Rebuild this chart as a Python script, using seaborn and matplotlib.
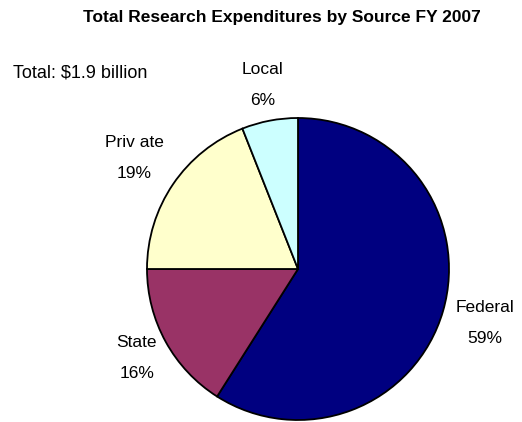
import numpy as np
import seaborn as sns
import matplotlib.pyplot as plt

sources = ["Federal", "State", "Private", "Local"]
shares = [59, 16, 19, 6]
label_text = ["Federal", "State", "Priv ate", "Local"]
colors = ["#000080", "#993366", "#FFFFCC", "#CCFFFF"]

# how far out each label sits (in pie radii)
label_dist = [1.29, 1.22, 1.31, 1.24]

sns.set_theme(style="white")
plt.rcParams["font.family"] = ["Liberation Sans Narrow", "Liberation Sans", "DejaVu Sans"]
plt.rcParams["text.color"] = "black"

fig = plt.figure(figsize=(5.22, 4.22), dpi=100)
cx, cy, r = 298, 269, 151
ax = fig.add_axes([(cx - r) / 522, (422 - cy - r) / 422, 2 * r / 522, 2 * r / 422])

wedges, _ = ax.pie(shares, colors=colors, startangle=90, counterclock=False,
                   wedgeprops=dict(edgecolor="black", linewidth=1.3))
ax.set_xlim(-1, 1)
ax.set_ylim(-1, 1)
ax.set_aspect("equal")

for w, name, pct, d in zip(wedges, label_text, shares, label_dist):
    mid = np.deg2rad((w.theta1 + w.theta2) / 2)
    ax.text(d * np.cos(mid), d * np.sin(mid), f"{name}\n{pct}%",
            ha="center", va="center", fontsize=12.5, linespacing=2.35,
            clip_on=False, color="black")

fig.text(0.54, 0.958, "Total Research Expenditures by Source FY 2007",
         ha="center", va="center", fontsize=12.5, fontweight="bold", color="black")
fig.text(0.025, 0.828, "Total: $1.9 billion", ha="left", va="center",
         fontsize=13, color="black")

fig.savefig("out.png", dpi=100)
